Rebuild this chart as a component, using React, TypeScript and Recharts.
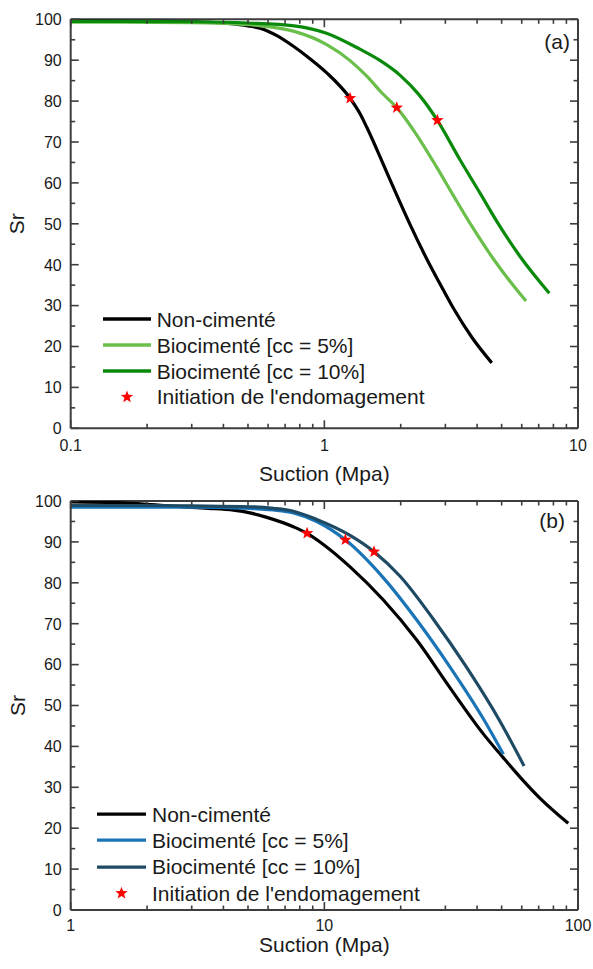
import React from 'react';
import { ComposedChart, Line, Scatter, XAxis, YAxis, Legend, ReferenceLine } from 'recharts';

const FONT = '"Liberation Sans", Arial, Helvetica, sans-serif';
const FRAME = '#3d3d3d';
const TEXT = '#1a1a1a';
const STAR = '#ff0000';

const PLOT_LEFT = 70.7;
const PLOT_RIGHT = 578;

type Pt = { s: number; sr: number };
type Serie = { name: string; color: string; data: Pt[] };

// ---------- (a) ----------
const aNonCimente: Pt[] = [
  { s: 0.1, sr: 99.6 }, { s: 0.2, sr: 99.5 }, { s: 0.3, sr: 99.4 }, { s: 0.412, sr: 99.0 },
  { s: 0.5, sr: 98.4 }, { s: 0.558, sr: 97.8 }, { s: 0.65, sr: 96.0 }, { s: 0.755, sr: 93.4 },
  { s: 0.88, sr: 90.3 }, { s: 1.022, sr: 86.9 }, { s: 1.263, sr: 80.7 }, { s: 1.383, sr: 76.9 },
  { s: 1.47, sr: 73.6 }, { s: 1.709, sr: 64.5 }, { s: 1.93, sr: 57.0 }, { s: 2.178, sr: 49.8 },
  { s: 2.534, sr: 41.4 }, { s: 2.946, sr: 33.8 }, { s: 3.245, sr: 29.1 }, { s: 3.82, sr: 22.2 },
  { s: 4.57, sr: 16.0 },
];
const aBio5: Pt[] = [
  { s: 0.1, sr: 99.3 }, { s: 0.3, sr: 99.2 }, { s: 0.4, sr: 99.0 }, { s: 0.56, sr: 98.4 },
  { s: 0.755, sr: 97.1 }, { s: 1.022, sr: 93.8 }, { s: 1.263, sr: 89.9 }, { s: 1.383, sr: 87.7 },
  { s: 1.47, sr: 86.1 }, { s: 1.68, sr: 82.1 }, { s: 1.93, sr: 78.4 }, { s: 2.314, sr: 71.7 },
  { s: 2.776, sr: 63.8 }, { s: 3.227, sr: 56.9 }, { s: 3.87, sr: 48.8 }, { s: 4.64, sr: 41.4 },
  { s: 5.56, sr: 34.9 }, { s: 6.24, sr: 31.1 },
];
const aBio10: Pt[] = [
  { s: 0.1, sr: 99.5 }, { s: 0.3, sr: 99.4 }, { s: 0.5, sr: 99.1 }, { s: 0.76, sr: 98.4 },
  { s: 1.02, sr: 96.6 }, { s: 1.38, sr: 92.7 }, { s: 1.65, sr: 90.0 }, { s: 1.99, sr: 86.3 },
  { s: 2.35, sr: 81.7 }, { s: 2.79, sr: 75.3 }, { s: 3.43, sr: 65.6 }, { s: 4.11, sr: 57.5 },
  { s: 4.93, sr: 49.3 }, { s: 5.91, sr: 42.0 }, { s: 7.71, sr: 33.0 },
];
const aInitiation: Pt[] = [
  { s: 1.263, sr: 80.7 }, { s: 1.93, sr: 78.4 }, { s: 2.79, sr: 75.3 },
];

// ---------- (b) ----------
const bNonCimente: Pt[] = [
  { s: 1, sr: 99.8 }, { s: 1.5, sr: 99.6 }, { s: 2, sr: 99.2 }, { s: 2.87, sr: 98.5 },
  { s: 3.5, sr: 98.2 }, { s: 4.38, sr: 97.75 }, { s: 5.09, sr: 97.1 }, { s: 5.93, sr: 96.0 },
  { s: 7.55, sr: 93.7 }, { s: 8.55, sr: 92.1 }, { s: 10, sr: 89.2 }, { s: 12.63, sr: 83.9 },
  { s: 17.09, sr: 75.8 }, { s: 23.14, sr: 66.0 }, { s: 31.3, sr: 54.3 }, { s: 42.4, sr: 43.0 },
  { s: 50.8, sr: 37.2 }, { s: 59.7, sr: 32.2 }, { s: 70.9, sr: 27.3 }, { s: 91.5, sr: 21.2 },
];
const bBio5: Pt[] = [
  { s: 1, sr: 98.5 }, { s: 2, sr: 98.5 }, { s: 3, sr: 98.5 }, { s: 5.09, sr: 98.2 },
  { s: 6.3, sr: 97.8 }, { s: 7.55, sr: 97.1 }, { s: 9.33, sr: 95.0 }, { s: 12.1, sr: 90.5 },
  { s: 17.09, sr: 81.2 }, { s: 23.14, sr: 70.9 }, { s: 31.3, sr: 59.4 }, { s: 42.4, sr: 46.7 },
  { s: 50.8, sr: 38.1 },
];
const bBio10: Pt[] = [
  { s: 1, sr: 98.9 }, { s: 2, sr: 98.9 }, { s: 3, sr: 98.8 }, { s: 5.09, sr: 98.6 },
  { s: 6.3, sr: 98.2 }, { s: 7.55, sr: 97.5 }, { s: 9.33, sr: 95.5 }, { s: 12.63, sr: 91.6 },
  { s: 15.7, sr: 87.6 }, { s: 19.89, sr: 81.6 }, { s: 26.9, sr: 71.1 }, { s: 36.4, sr: 59.3 },
  { s: 49.3, sr: 46.1 }, { s: 61.3, sr: 35.2 },
];
const bInitiation: Pt[] = [
  { s: 8.55, sr: 92.1 }, { s: 12.1, sr: 90.5 }, { s: 15.7, sr: 87.6 },
];

// ---------- ticks ----------
const srTicks = [0, 5, 10, 15, 20, 25, 30, 35, 40, 45, 50, 55, 60, 65, 70, 75, 80, 85, 90, 95, 100];
const srMajor = [0, 10, 20, 30, 40, 50, 60, 70, 80, 90, 100];
const aSuctionTicks = [0.1, 0.2, 0.3, 0.4, 0.5, 0.6, 0.7, 0.8, 0.9, 1, 2, 3, 4, 5, 6, 7, 8, 9, 10];
const aSuctionMajor = [0.1, 1, 10];
const bSuctionTicks = [1, 2, 3, 4, 5, 6, 7, 8, 9, 10, 20, 30, 40, 50, 60, 70, 80, 90, 100];
const bSuctionMajor = [1, 10, 100];

const names = ['Non-cimenté', 'Biocimenté [cc = 5%]', 'Biocimenté [cc = 10%]'];
const initiationName = "Initiation de l'endomagement";

const starPoints = (cx: number, cy: number, r: number) => {
  const pts: string[] = [];
  for (let i = 0; i < 10; i++) {
    const rad = i % 2 === 0 ? r : r * 0.42;
    const a = -Math.PI / 2 + (i * Math.PI) / 5;
    pts.push(`${cx + rad * Math.cos(a)},${cy + rad * Math.sin(a)}`);
  }
  return pts.join(' ');
};

const StarShape = (props: any) => (
  <polygon points={starPoints(props.cx, props.cy, 6.5)} fill={STAR} />
);

// inward ticks on bottom and (mirrored) top frame
const makeXTick = (majors: number[], top: number, bottom: number, labelDy: number) => (props: any) => {
  const { x, payload } = props;
  const major = majors.includes(payload.value);
  const len = major ? 8 : 4.5;
  return (
    <g>
      <line x1={x} y1={bottom} x2={x} y2={bottom - len} stroke={FRAME} strokeWidth={1.6} />
      <line x1={x} y1={top} x2={x} y2={top + len} stroke={FRAME} strokeWidth={1.6} />
      {major && (
        <text x={x} y={bottom + labelDy} textAnchor="middle" fontSize={16} fill={TEXT} fontFamily={FONT}>
          {String(payload.value)}
        </text>
      )}
    </g>
  );
};

// inward ticks on left and (mirrored) right frame
const YTick = (props: any) => {
  const { y, payload } = props;
  const major = srMajor.includes(payload.value);
  const len = major ? 8 : 4.5;
  return (
    <g>
      <line x1={PLOT_LEFT} y1={y} x2={PLOT_LEFT + len} y2={y} stroke={FRAME} strokeWidth={1.6} />
      <line x1={PLOT_RIGHT} y1={y} x2={PLOT_RIGHT - len} y2={y} stroke={FRAME} strokeWidth={1.6} />
      {major && (
        <text x={PLOT_LEFT - 9} y={y + 5.8} textAnchor="end" fontSize={16} fill={TEXT} fontFamily={FONT}>
          {payload.value}
        </text>
      )}
    </g>
  );
};

interface PanelProps {
  series: Serie[];
  stars: Pt[];
  domain: [number, number];
  ticks: number[];
  majors: number[];
  height: number;
  marginTop: number;
  xAxisHeight: number;
  tickLabelDy: number;
  titleY: number;
  tag: string;
  tagX: number;
  tagY: number;
  legendLeft: number;
  legendTop: number;
  swatch: number;
  gap: number;
  rowH: number;
}

const Panel: React.FC<PanelProps> = (p) => {
  const plotTop = p.marginTop;
  const plotBottom = p.height - p.xAxisHeight;
  const renderLegend = () => (
    <div style={{ fontFamily: FONT, fontSize: 21, color: TEXT }}>
      {p.series.map((s) => (
        <div key={s.name} style={{ display: 'flex', alignItems: 'center', height: p.rowH }}>
          <svg width={p.swatch} height={p.rowH} style={{ display: 'block' }}>
            <line x1={0} x2={p.swatch} y1={p.rowH / 2} y2={p.rowH / 2} stroke={s.color} strokeWidth={3.4} />
          </svg>
          <span style={{ marginLeft: p.gap, whiteSpace: 'nowrap', lineHeight: 1 }}>{s.name}</span>
        </div>
      ))}
      <div style={{ display: 'flex', alignItems: 'center', height: p.rowH }}>
        <svg width={p.swatch} height={p.rowH} style={{ display: 'block' }}>
          <polygon points={starPoints(p.swatch / 2, p.rowH / 2, 6.5)} fill={STAR} />
        </svg>
        <span style={{ marginLeft: p.gap, whiteSpace: 'nowrap', lineHeight: 1 }}>{initiationName}</span>
      </div>
    </div>
  );

  const axisLine = { stroke: FRAME, strokeWidth: 2 };

  return (
    <ComposedChart
      width={593}
      height={p.height}
      margin={{ top: p.marginTop, right: 15, bottom: 0, left: 0 }}
      style={{ fontFamily: FONT }}
    >
      <XAxis
        dataKey="s"
        type="number"
        scale="log"
        domain={p.domain}
        allowDataOverflow
        ticks={p.ticks}
        interval={0}
        height={p.xAxisHeight}
        tickSize={0}
        tickMargin={0}
        tickLine={false}
        axisLine={axisLine}
        tick={makeXTick(p.majors, plotTop, plotBottom, p.tickLabelDy)}
        label={{
          content: () => (
            <text x={(PLOT_LEFT + PLOT_RIGHT) / 2} y={p.titleY} textAnchor="middle" fontSize={21} fill={TEXT} fontFamily={FONT}>
              Suction (Mpa)
            </text>
          ),
        }}
      />
      <YAxis
        dataKey="sr"
        type="number"
        domain={[0, 100]}
        allowDataOverflow
        ticks={srTicks}
        interval={0}
        width={PLOT_LEFT}
        tickSize={0}
        tickMargin={0}
        tickLine={false}
        axisLine={axisLine}
        tick={YTick}
        label={{
          content: () => (
            <text
              x={24.5}
              y={(plotTop + plotBottom) / 2}
              transform={`rotate(-90 24.5 ${(plotTop + plotBottom) / 2})`}
              textAnchor="middle"
              fontSize={21}
              fill={TEXT}
              fontFamily={FONT}
            >
              Sr
            </text>
          ),
        }}
      />
      {/* top and right edges of the frame */}
      <ReferenceLine
        y={100}
        stroke={FRAME}
        strokeWidth={2}
        ifOverflow="visible"
        label={{
          content: () => (
            <text x={p.tagX} y={p.tagY} textAnchor="end" fontSize={21} fill={TEXT} fontFamily={FONT}>
              {p.tag}
            </text>
          ),
        }}
      />
      <ReferenceLine x={p.domain[1]} stroke={FRAME} strokeWidth={2} ifOverflow="visible" />
      {p.series.map((s) => (
        <Line
          key={s.name}
          name={s.name}
          data={s.data}
          dataKey="sr"
          type="monotone"
          stroke={s.color}
          strokeWidth={3.2}
          dot={false}
          activeDot={false}
          isAnimationActive={false}
        />
      ))}
      <Scatter
        name={initiationName}
        data={p.stars}
        dataKey="sr"
        fill={STAR}
        shape={StarShape}
        isAnimationActive={false}
      />
      <Legend
        layout="vertical"
        align="center"
        verticalAlign="middle"
        content={renderLegend}
        wrapperStyle={{ left: p.legendLeft, top: p.legendTop, width: 360 }}
      />
    </ComposedChart>
  );
};

const aSeries: Serie[] = [
  { name: names[0], color: '#000000', data: aNonCimente },
  { name: names[1], color: '#6abf4b', data: aBio5 },
  { name: names[2], color: '#0a8a0a', data: aBio10 },
];
const bSeries: Serie[] = [
  { name: names[0], color: '#000000', data: bNonCimente },
  { name: names[1], color: '#1a74b6', data: bBio5 },
  { name: names[2], color: '#1e4a64', data: bBio10 },
];

export default function App() {
  return (
    <div style={{ position: 'absolute', left: 0, top: 0, width: 593, height: 969, background: '#fff' }}>
      <div style={{ position: 'absolute', left: 0, top: 0 }}>
        <Panel
          series={aSeries}
          stars={aInitiation}
          domain={[0.1, 10]}
          ticks={aSuctionTicks}
          majors={aSuctionMajor}
          height={495}
          marginTop={19.3}
          xAxisHeight={66.7}
          tickLabelDy={22.4}
          titleY={481.3}
          tag="(a)"
          tagX={570}
          tagY={48.6}
          legendLeft={103}
          legendTop={306.3}
          swatch={48}
          gap={5.7}
          rowH={25.9}
        />
      </div>
      <div style={{ position: 'absolute', left: 0, top: 480 }}>
        <Panel
          series={bSeries}
          stars={bInitiation}
          domain={[1, 100]}
          ticks={bSuctionTicks}
          majors={bSuctionMajor}
          height={489}
          marginTop={21}
          xAxisHeight={59}
          tickLabelDy={20.8}
          titleY={472.3}
          tag="(b)"
          tagX={565}
          tagY={48.3}
          legendLeft={97.4}
          legendTop={321.1}
          swatch={49}
          gap={5.6}
          rowH={26.3}
        />
      </div>
    </div>
  );
}
